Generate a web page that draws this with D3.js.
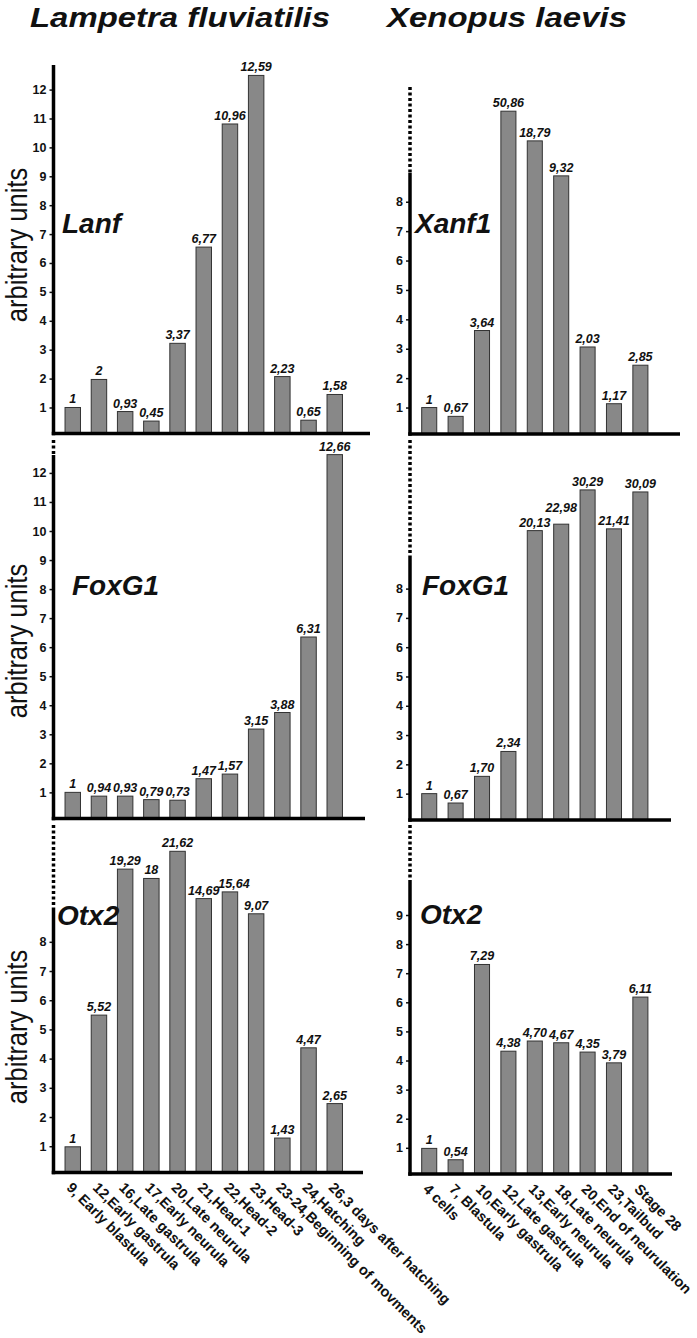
<!DOCTYPE html>
<html>
<head>
<meta charset="utf-8">
<script src="https://cdnjs.cloudflare.com/ajax/libs/d3/7.8.5/d3.min.js"></script>
<style>
body { margin: 0; background: #fff; }
text { font-family: "Liberation Sans", Arial, sans-serif; }
</style>
</head>
<body>
<script>
// stages (x categories)
var lampreyStages = ["9, Early blastula", "12,Early gastrula", "16,Late gastrula", "17,Early neurula",
  "20,Late neurula", "21,Head-1", "22,Head-2", "23,Head-3", "23-24,Beginning of movments",
  "24,Hatching", "26,3 days after hatching"];
var xenopusStages = ["4 cells", "7, Blastula", "10,Early gastrula", "12,Late gastrula",
  "13,Early neurula", "18,Late neurula", "20,End of neurulation", "23,Tailbud", "Stage 28"];

// printed values and drawn bar heights (axis units, axis is broken for the tall bars)
var lanfLabels = ["1", "2", "0,93", "0,45", "3,37", "6,77", "10,96", "12,59", "2,23", "0,65", "1,58"];
var lanfHeights = [1.0, 1.97, 0.86, 0.53, 3.22, 6.55, 10.81, 12.49, 2.07, 0.56, 1.45];
var foxLampLabels = ["1", "0,94", "0,93", "0,79", "0,73", "1,47", "1,57", "3,15", "3,88", "6,31", "12,66"];
var foxLampHeights = [1.0, 0.87, 0.87, 0.75, 0.73, 1.47, 1.63, 3.18, 3.75, 6.35, 12.63];
var otxLampLabels = ["1", "5,52", "19,29", "18", "21,62", "14,69", "15,64", "9,07", "1,43", "4,47", "2,65"];
var otxLampHeights = [0.98, 5.49, 10.49, 10.17, 11.1, 9.48, 9.71, 8.96, 1.28, 4.37, 2.46];

var xanfLabels = ["1", "0,67", "3,64", "50,86", "18,79", "9,32", "2,03", "1,17", "2,85"];
var xanfHeights = [1.0, 0.7, 3.62, 11.08, 10.07, 8.88, 3.06, 1.13, 2.44];
var foxXenLabels = ["1", "0,67", "1,70", "2,34", "20,13", "22,98", "30,29", "21,41", "30,09"];
var foxXenHeights = [1.0, 0.68, 1.59, 2.44, 9.98, 10.2, 11.37, 10.04, 11.3];
var otxXenLabels = ["1", "0,54", "7,29", "4,38", "4,70", "4,67", "4,35", "3,79", "6,11"];
var otxXenHeights = [0.98, 0.59, 7.3, 4.32, 4.67, 4.61, 4.29, 3.92, 6.18];

var lampreyTicks = d3.range(1, 13);
var otxLampTicks = d3.range(1, 9);
var xenTicks = d3.range(1, 9);
var otxXenTicks = d3.range(1, 10);

var width = 697;
var height = 1338;
var svg = d3.select("body")
  .append("svg")
  .attr("width", width)
  .attr("height", height);

var xLeft = d3.scaleBand().domain(lampreyStages).range([53.5, 354]).paddingInner(0.41).paddingOuter(0.44);
var xRight = d3.scaleBand().domain(xenopusStages).range([410, 659.6]).paddingInner(0.43).paddingOuter(0.443);

var panels = [
  {x: xLeft, axisX: 53.5, axisEnd: 370, axisY: 433.5, unit: 28.9, solidTop: 65, dotTop: null,
    labels: lanfLabels, heights: lanfHeights, ticks: lampreyTicks, gene: "Lanf", gx: 62, gy: 233},
  {x: xRight, axisX: 410, axisEnd: 680, axisY: 434, unit: 29.4, solidTop: 173, dotTop: 87,
    labels: xanfLabels, heights: xanfHeights, ticks: xenTicks, gene: "Xanf1", gx: 415, gy: 233},
  {x: xLeft, axisX: 53.5, axisEnd: 365, axisY: 818.5, unit: 29.04, solidTop: 455, dotTop: 440,
    labels: foxLampLabels, heights: foxLampHeights, ticks: lampreyTicks, gene: "FoxG1", gx: 72, gy: 595},
  {x: xRight, axisX: 410, axisEnd: 671, axisY: 820, unit: 29.29, solidTop: 557, dotTop: 440,
    labels: foxXenLabels, heights: foxXenHeights, ticks: xenTicks, gene: "FoxG1", gx: 422, gy: 595,
    tweak: {5: [0, -8]}},
  {x: xLeft, axisX: 53.5, axisEnd: 363, axisY: 1172.5, unit: 29.2, solidTop: 908, dotTop: 825,
    labels: otxLampLabels, heights: otxLampHeights, ticks: otxLampTicks, gene: "Otx2", gx: 57, gy: 925,
    tweak: {6: [4, 0]}, bottom: true},
  {x: xRight, axisX: 410, axisEnd: 672, axisY: 1174, unit: 29.1, solidTop: 881, dotTop: 825,
    labels: otxXenLabels, heights: otxXenHeights, ticks: otxXenTicks, gene: "Otx2", gx: 420, gy: 924,
    bottom: true}
];

panels.forEach(function (p) {
  var g = svg.append("g");
  var y = d3.scaleLinear()
    .domain([0.1, 13])
    .range([p.axisY, p.axisY - 12.9 * p.unit]);
  var cats = p.x.domain();

  // ticks
  var ax = g.append("g")
    .attr("transform", "translate(" + p.axisX + ",0)")
    .call(d3.axisLeft(y).tickValues(p.ticks).tickSize(4).tickPadding(3).tickFormat(d3.format("d")));
  ax.select(".domain").remove();
  ax.selectAll(".tick line").attr("stroke", "#111").attr("stroke-width", 1.5);
  ax.selectAll(".tick text")
    .attr("fill", "#111")
    .style("font-size", "12.5px")
    .style("font-weight", "bold")
    .style("font-family", "'Liberation Sans', Arial, sans-serif");

  // bars
  g.selectAll("rect.bar")
    .data(p.heights)
    .enter()
    .append("rect")
    .classed("bar", true)
    .attr("x", function (d, i) { return p.x(cats[i]); })
    .attr("y", function (d) { return y(d); })
    .attr("width", p.x.bandwidth())
    .attr("height", function (d) { return p.axisY - y(d); })
    .attr("fill", "#888888")
    .attr("stroke", "#333333")
    .attr("stroke-width", 1);

  // value labels
  g.selectAll("text.val")
    .data(p.labels)
    .enter()
    .append("text")
    .classed("val", true)
    .attr("x", function (d, i) {
      var t = p.tweak && p.tweak[i] ? p.tweak[i][0] : 0;
      return p.x(cats[i]) + p.x.bandwidth() / 2 + t;
    })
    .attr("y", function (d, i) {
      var t = p.tweak && p.tweak[i] ? p.tweak[i][1] : 0;
      return y(p.heights[i]) - 4 + t;
    })
    .attr("text-anchor", "middle")
    .style("font-size", "12.5px")
    .style("font-weight", "bold")
    .style("font-style", "italic")
    .attr("fill", "#111")
    .text(function (d) { return d; });

  // axes lines
  g.append("line")
    .attr("x1", p.axisX).attr("x2", p.axisX)
    .attr("y1", p.solidTop).attr("y2", p.axisY + 1.75)
    .attr("stroke", "#000").attr("stroke-width", 3.5);
  if (p.dotTop !== null) {
    g.append("line")
      .attr("x1", p.axisX).attr("x2", p.axisX)
      .attr("y1", p.dotTop).attr("y2", p.solidTop)
      .attr("stroke", "#000").attr("stroke-width", 3.5)
      .attr("stroke-dasharray", "3,2.5");
  }
  g.append("line")
    .attr("x1", p.axisX - 1.75).attr("x2", p.axisEnd)
    .attr("y1", p.axisY).attr("y2", p.axisY)
    .attr("stroke", "#000").attr("stroke-width", 3.5);

  // gene name
  g.append("text")
    .attr("x", p.gx).attr("y", p.gy)
    .style("font-size", "28px")
    .style("font-weight", "bold")
    .style("font-style", "italic")
    .attr("fill", "#111")
    .text(p.gene);

  // stage labels under bottom row
  if (p.bottom) {
    g.selectAll("text.stage")
      .data(cats)
      .enter()
      .append("text")
      .classed("stage", true)
      .attr("transform", function (d) {
        return "translate(" + (p.x(d) + p.x.bandwidth() / 2 - 7) + "," + (p.axisY + 16) + ") rotate(45)";
      })
      .style("font-size", "14.5px")
      .style("font-weight", "bold")
      .attr("fill", "#111")
      .text(function (d) { return d; });
  }
});

// y axis titles
svg.selectAll("text.ytitle")
  .data([245, 641, 1027])
  .enter()
  .append("text")
  .classed("ytitle", true)
  .attr("transform", function (d) {
    return "translate(27," + d + ") scale(1.15,1) rotate(-90)";
  })
  .attr("text-anchor", "middle")
  .style("font-size", "25.5px")
  .attr("fill", "#111")
  .text("arbitrary units");

// species titles
svg.selectAll("text.species")
  .data([{name: "Lampetra fluviatilis", x: 30, w: 300}, {name: "Xenopus laevis", x: 387, w: 240}])
  .enter()
  .append("text")
  .classed("species", true)
  .attr("x", function (d) { return d.x; })
  .attr("y", 27)
  .attr("textLength", function (d) { return d.w; })
  .attr("lengthAdjust", "spacingAndGlyphs")
  .style("font-size", "27px")
  .style("font-weight", "bold")
  .style("font-style", "italic")
  .attr("fill", "#111")
  .text(function (d) { return d.name; });
</script>
</body>
</html>
